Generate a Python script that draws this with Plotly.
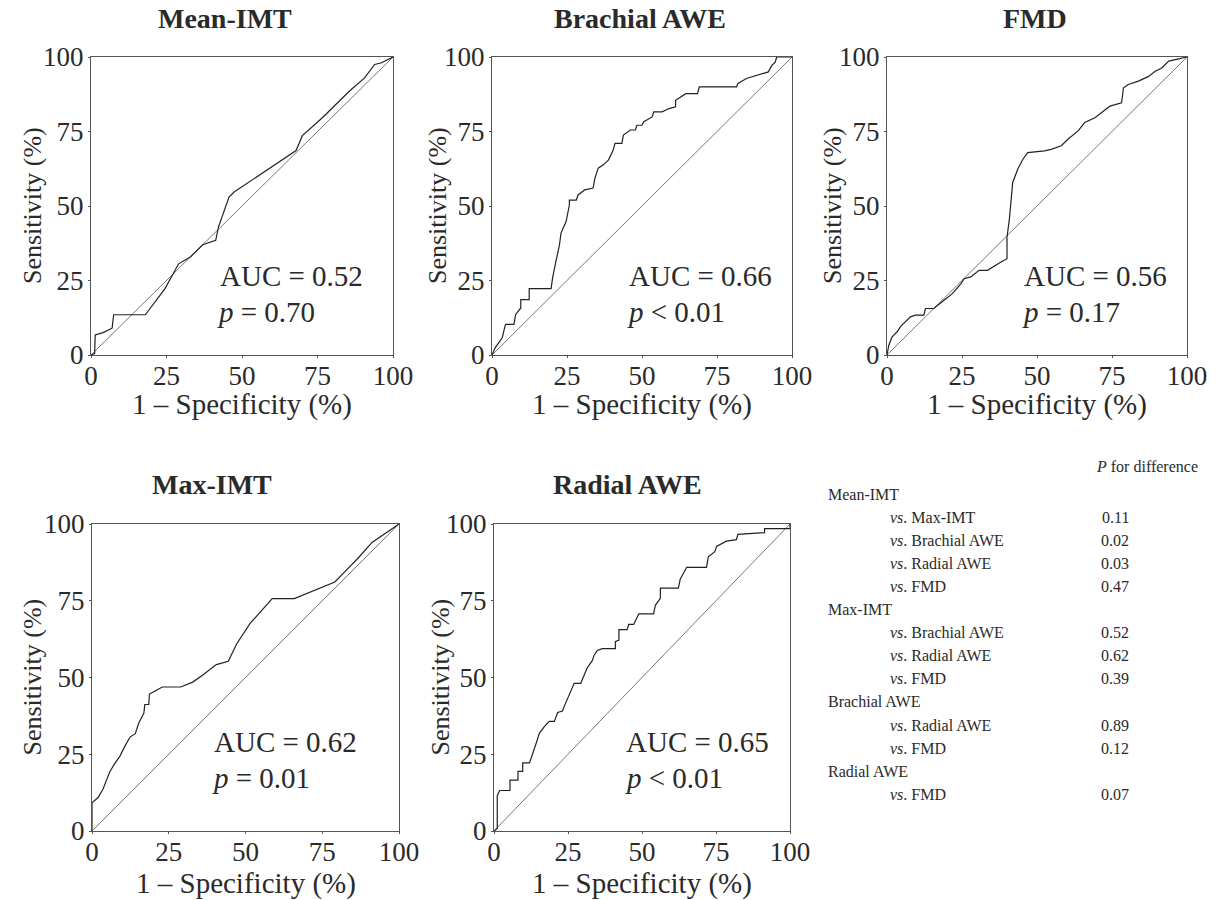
import plotly.graph_objects as go

# ---------------- data ----------------
tick_vals = [0, 25, 50, 75, 100]
diag = [0, 100]

mean_imt_fpr = [0, 1.2, 1.4, 4.0, 7.0, 7.5, 18.0, 24.5, 29.0, 33.0, 37.0, 41.3, 42.2, 45.7, 47.4, 67.9, 70.0, 76.7, 85.6, 90.6, 93.9, 96.0, 100]
mean_imt_tpr = [0, 0.5, 6.7, 7.5, 9.0, 13.5, 13.5, 22.3, 30.6, 33.0, 37.0, 38.5, 42.9, 53.0, 54.7, 68.6, 73.6, 79.7, 88.6, 93.0, 97.5, 98.0, 100]

brachial_fpr = [0, 1.1, 3.4, 4.5, 7.3, 7.9, 9.6, 9.6, 12.4, 12.4, 19.7, 20.2, 21.3, 22.5, 23.0, 24.7, 25.8, 25.8, 28.1, 28.7,
                30.9, 33.7, 34.3, 35.4, 37.1, 38.8, 40.4, 41.0, 43.3, 43.8, 46.1, 47.8, 48.3, 50.0, 50.6, 53.4, 53.9, 56.7, 59.0, 61.2,
                61.2, 64.6, 68.5, 69.1, 81.5, 82.0, 84.8, 88.2, 92.1, 93.3, 94.4, 94.9, 100]
brachial_tpr = [0, 2.5, 5.8, 10.3, 10.3, 13.6, 15.8, 18.6, 18.6, 22.3, 22.3, 25.9, 31.4, 37.0, 40.9, 44.8, 50.4, 52.0, 52.0, 53.7,
                55.4, 56.0, 59.3, 62.7, 63.8, 65.4, 68.8, 71.0, 71.0, 73.8, 75.5, 75.5, 77.1, 77.1, 78.3, 79.9, 81.6, 81.6, 82.7, 83.3,
                85.5, 87.7, 87.7, 90.0, 90.0, 91.1, 92.8, 93.9, 95.0, 97.2, 98.3, 100, 100]

fmd_fpr = [0, 0.6, 1.7, 3.4, 4.5, 6.1, 7.8, 9.5, 12.3, 12.8, 15.6, 19.0, 21.8, 24.6, 25.7, 27.9, 30.7, 33.5, 35.2, 38.0,
           40.0, 40.0, 40.8, 41.9, 43.6, 45.3, 46.9, 52.5, 54.7, 58.1, 60.3, 63.7, 65.9, 69.3, 72.1, 74.3, 78.2, 78.8, 80.4, 83.8,
           87.2, 89.4, 91.6, 93.9, 96.1, 99.4, 100]
fmd_tpr = [0, 3.3, 6.1, 7.8, 9.5, 11.1, 12.8, 13.4, 13.4, 15.6, 15.6, 18.4, 20.6, 23.9, 25.6, 26.2, 28.4, 28.4, 29.5, 31.2,
           32.3, 39.5, 45.7, 57.9, 62.4, 65.7, 67.9, 68.5, 69.0, 70.2, 72.4, 75.2, 78.0, 79.6, 81.8, 83.5, 84.6, 89.6, 90.8, 91.9,
           93.5, 95.2, 96.3, 98.6, 99.1, 99.7, 100]

max_imt_fpr = [0, 0, 2.0, 3.6, 4.7, 5.8, 7.5, 9.1, 10.8, 12.4, 14.1, 15.2, 16.9, 17.2, 18.5, 18.7, 20.7, 22.9, 28.9, 32.8,
               36.1, 40.5, 44.4, 47.1, 51.5, 55.4, 58.7, 65.9, 72.5, 79.1, 82.4, 86.8, 91.2, 94.5, 100]
max_imt_tpr = [0, 9.2, 10.9, 13.7, 16.5, 19.3, 22.1, 24.4, 27.8, 30.6, 31.7, 35.1, 38.4, 41.2, 41.2, 44.6, 45.7, 46.9, 46.9, 48.5,
               50.8, 54.2, 55.3, 60.9, 67.6, 72.1, 75.7, 75.7, 78.3, 81.1, 84.5, 89.0, 94.0, 96.3, 100]

radial_fpr = [0, 1.1, 1.1, 1.9, 5.4, 5.4, 8.1, 8.1, 9.7, 9.7, 12.0, 13.1, 14.2, 15.3, 17.0, 18.7, 20.4, 21.5, 23.1, 24.3,
              25.4, 26.5, 27.1, 29.3, 30.4, 31.5, 33.2, 33.8, 34.9, 36.6, 41.0, 41.0, 42.2, 42.2, 45.0, 45.5, 47.2, 48.9, 53.9, 54.5,
              56.2, 56.2, 62.3, 62.9, 65.1, 71.8, 72.4, 74.6, 75.2, 78.5, 81.9, 82.4, 91.4, 91.4, 100, 100]
radial_tpr = [0, 0.8, 11.5, 13.2, 13.2, 16.6, 16.6, 19.4, 19.4, 22.2, 22.2, 25.0, 28.4, 31.8, 34.0, 35.7, 35.7, 38.6, 39.1, 41.9,
              44.2, 46.4, 48.1, 48.1, 51.0, 53.2, 55.5, 57.2, 58.8, 59.4, 59.4, 61.7, 62.2, 65.6, 65.6, 67.3, 67.3, 70.7, 70.7, 73.5,
              75.8, 79.1, 79.1, 82.0, 85.9, 85.9, 89.3, 91.0, 92.7, 94.4, 94.9, 96.6, 97.2, 98.5, 98.5, 100]

titles = ["Mean-IMT", "Brachial AWE", "FMD", "Max-IMT", "Radial AWE"]
auc_texts = ["AUC = 0.52", "AUC = 0.66", "AUC = 0.56", "AUC = 0.62", "AUC = 0.65"]
p_texts = ["<i>p</i> = 0.70", "<i>p</i> < 0.01", "<i>p</i> = 0.17", "<i>p</i> = 0.01", "<i>p</i> < 0.01"]

table_groups = ["Mean-IMT", "Max-IMT", "Brachial AWE", "Radial AWE"]
table_comparisons = [["Max-IMT", "Brachial AWE", "Radial AWE", "FMD"],
                     ["Brachial AWE", "Radial AWE", "FMD"],
                     ["Radial AWE", "FMD"],
                     ["FMD"]]
table_pvalues = [["0.11", "0.02", "0.03", "0.47"],
                 ["0.52", "0.62", "0.39"],
                 ["0.89", "0.12"],
                 ["0.07"]]

curves = [(mean_imt_fpr, mean_imt_tpr), (brachial_fpr, brachial_tpr), (fmd_fpr, fmd_tpr),
          (max_imt_fpr, max_imt_tpr), (radial_fpr, radial_tpr)]

# ---------------- layout (pixels) ----------------
W, H = 1221, 900
SERIF = "Liberation Serif, Times New Roman, serif"
TXT = "#2a2a2a"
# plot boxes: left, right, top, bottom
boxes = [(91, 393, 57, 355), (492, 792, 57, 355), (887, 1187, 57, 355),
         (92, 399, 524, 831), (494, 790, 524, 831)]
title_pos = [(225, 18), (640, 18), (1035, 18), (212, 484), (627, 484)]
ylab_x = [32, 437, 832, 32, 440]
xlab_y = [404, 404, 404, 883, 883]
auc_pos = [(42, 26.5, 41, 14.4), (45, 26.5, 44.3, 14.4), (45, 26.5, 44.3, 14.4),
           (39, 29, 38.5, 17.3), (44, 29, 43.5, 17.3)]

def fx(p):
    return p / W

def fy(p):
    return 1 - p / H

def ann(text, x, y, size, xanchor="center", **kw):
    return dict(text=text, x=x, y=y, xref=kw.pop("xref", "paper"), yref=kw.pop("yref", "paper"),
                xanchor=xanchor, yanchor="middle", showarrow=False,
                font=dict(family=SERIF, size=size, color=TXT), **kw)

fig = go.Figure()
annotations = []
for i, ((fpr, tpr), box) in enumerate(zip(curves, boxes)):
    n = i + 1
    xa = "x" if n == 1 else f"x{n}"
    ya = "y" if n == 1 else f"y{n}"
    fig.add_trace(go.Scatter(x=diag, y=diag, mode="lines", xaxis=xa, yaxis=ya,
                             line=dict(color="#777777", width=1), showlegend=False, hoverinfo="skip"))
    fig.add_trace(go.Scatter(x=fpr, y=tpr, mode="lines", xaxis=xa, yaxis=ya,
                             line=dict(color="#222222", width=1.2), showlegend=False))
    l, r, t, b = box
    axis_common = dict(range=[0, 100], tickvals=tick_vals, ticks="outside", ticklen=2, tickcolor="#555",
                       showline=True, mirror=True, linecolor="#555", linewidth=1.2, showgrid=False,
                       zeroline=False, tickfont=dict(family=SERIF, size=27, color=TXT), fixedrange=True,
                       automargin=False)
    fig.update_layout(**{
        ("xaxis" if n == 1 else f"xaxis{n}"): dict(domain=[fx(l), fx(r)], anchor=ya, ticklabelstandoff=-6, **axis_common),
        ("yaxis" if n == 1 else f"yaxis{n}"): dict(domain=[fy(b), fy(t)], anchor=xa, ticklabelstandoff=-1, **axis_common),
    })
    tx, ty = title_pos[i]
    annotations.append(ann(f"<b>{titles[i]}</b>", fx(tx), fy(ty), 28))
    annotations.append(ann("Sensitivity (%)", fx(ylab_x[i]), fy((t + b) / 2), 26, textangle=-90))
    annotations.append(ann("1 – Specificity (%)", fx((l + r) / 2), fy(xlab_y[i]), 29))
    ax_, ay_, px_, py_ = auc_pos[i]
    annotations.append(ann(auc_texts[i], ax_, ay_, 29, xanchor="left", xref=xa, yref=ya))
    annotations.append(ann(p_texts[i], px_, py_, 29, xanchor="left", xref=xa, yref=ya))

# table
annotations.append(ann("<i>P</i> for difference", fx(1200), fy(466), 16, xanchor="right"))
row_y = 494
for g, comps, vals in zip(table_groups, table_comparisons, table_pvalues):
    annotations.append(ann(g, fx(826), fy(row_y), 16, xanchor="left"))
    row_y += 23.1
    for c, v in zip(comps, vals):
        annotations.append(ann(f"<i>vs</i>. {c}", fx(888), fy(row_y), 16, xanchor="left"))
        annotations.append(ann(v, fx(1115), fy(row_y), 16))
        row_y += 23.1

fig.update_layout(width=W, height=H, margin=dict(l=0, r=0, t=0, b=0, autoexpand=False), autosize=False,
                  template="none", paper_bgcolor="white", plot_bgcolor="white", annotations=annotations,
                  showlegend=False)
fig.write_html("out.html", config={"displayModeBar": False},
               post_script="document.body.style.margin='0';document.body.style.overflow='hidden';")
